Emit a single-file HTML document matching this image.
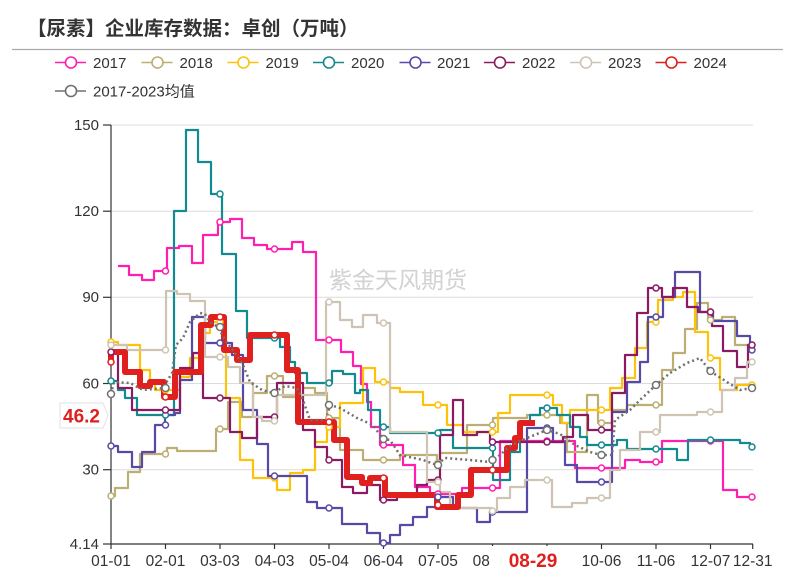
<!DOCTYPE html>
<html><head><meta charset="utf-8"><style>
html,body{margin:0;padding:0;background:#fff;}
svg{display:block;}
text{font-family:"Liberation Sans","Noto Sans CJK SC",sans-serif;}
</style></head><body>
<svg width="796" height="575" viewBox="0 0 796 575" xmlns="http://www.w3.org/2000/svg">
<rect width="796" height="575" fill="#fff"/>
<text x="27" y="35" font-size="19.5" font-weight="bold" fill="#333" font-family="'Noto Sans CJK SC',sans-serif">【尿素】企业库存数据：卓创（万吨）</text>
<line x1="12" y1="49.5" x2="783" y2="49.5" stroke="#aaa" stroke-width="1.2"/>

<!-- legend -->
<g font-size="15" fill="#333" stroke-width="1.6">
<g><line x1="55" y1="62.5" x2="86" y2="62.5" stroke="#ff1fae"/><circle cx="71" cy="62.5" r="5.5" fill="#fff" stroke="#ff1fae"/><text x="93" y="68" stroke="none">2017</text></g>
<g><line x1="141.5" y1="62.5" x2="172.5" y2="62.5" stroke="#bcae74"/><circle cx="157.5" cy="62.5" r="5.5" fill="#fff" stroke="#bcae74"/><text x="179.5" y="68" stroke="none">2018</text></g>
<g><line x1="227.5" y1="62.5" x2="258.5" y2="62.5" stroke="#fdc20a"/><circle cx="243.5" cy="62.5" r="5.5" fill="#fff" stroke="#fdc20a"/><text x="265.5" y="68" stroke="none">2019</text></g>
<g><line x1="313" y1="62.5" x2="344" y2="62.5" stroke="#128a8f"/><circle cx="329" cy="62.5" r="5.5" fill="#fff" stroke="#128a8f"/><text x="351" y="68" stroke="none">2020</text></g>
<g><line x1="399.5" y1="62.5" x2="430.5" y2="62.5" stroke="#574aa6"/><circle cx="415.5" cy="62.5" r="5.5" fill="#fff" stroke="#574aa6"/><text x="437" y="68" stroke="none">2021</text></g>
<g><line x1="484" y1="62.5" x2="515" y2="62.5" stroke="#8b1a62"/><circle cx="500" cy="62.5" r="5.5" fill="#fff" stroke="#8b1a62"/><text x="522" y="68" stroke="none">2022</text></g>
<g><line x1="570" y1="62.5" x2="601" y2="62.5" stroke="#cfc4b4"/><circle cx="586" cy="62.5" r="5.5" fill="#fff" stroke="#cfc4b4"/><text x="608" y="68" stroke="none">2023</text></g>
<g><line x1="655.5" y1="62.5" x2="686.5" y2="62.5" stroke="#e0201e"/><circle cx="671.5" cy="62.5" r="5.5" fill="#fff" stroke="#e0201e"/><text x="693.5" y="68" stroke="none">2024</text></g>
<g><line x1="55" y1="91" x2="86" y2="91" stroke="#707070"/><circle cx="71" cy="91" r="5.5" fill="#fff" stroke="#707070"/><text x="93" y="96.5" stroke="none">2017-2023<tspan font-family="'Noto Sans CJK SC',sans-serif">均值</tspan></text></g>
</g>

<!-- grid -->
<g stroke="#dcdcdc" stroke-width="1">
<line x1="111" y1="125" x2="753" y2="125"/>
<line x1="111" y1="211.2" x2="753" y2="211.2"/>
<line x1="111" y1="297.3" x2="753" y2="297.3"/>
<line x1="111" y1="383.5" x2="753" y2="383.5"/>
<line x1="111" y1="469.7" x2="753" y2="469.7"/>
</g>

<!-- watermark -->
<text x="329" y="288" font-size="23" fill="#d2d2d2" font-family="'Noto Sans CJK SC',sans-serif">紫金天风期货</text>

<!-- axes -->
<g stroke="#333" stroke-width="1.2">
<line x1="111" y1="125" x2="111" y2="544"/>
<line x1="111" y1="544" x2="753" y2="544"/>
<line x1="103" y1="125" x2="111" y2="125"/>
<line x1="103" y1="211.2" x2="111" y2="211.2"/>
<line x1="103" y1="297.3" x2="111" y2="297.3"/>
<line x1="103" y1="383.5" x2="111" y2="383.5"/>
<line x1="103" y1="469.7" x2="111" y2="469.7"/>
<line x1="103" y1="544" x2="111" y2="544"/>
<line x1="111" y1="544" x2="111" y2="549"/>
<line x1="165.5" y1="544" x2="165.5" y2="549"/>
<line x1="220" y1="544" x2="220" y2="549"/>
<line x1="274.5" y1="544" x2="274.5" y2="549"/>
<line x1="329" y1="544" x2="329" y2="549"/>
<line x1="383.5" y1="544" x2="383.5" y2="549"/>
<line x1="438" y1="544" x2="438" y2="549"/>
<line x1="492.5" y1="544" x2="492.5" y2="549"/>
<line x1="547" y1="544" x2="547" y2="549"/>
<line x1="601.5" y1="544" x2="601.5" y2="549"/>
<line x1="656" y1="544" x2="656" y2="549"/>
<line x1="710.5" y1="544" x2="710.5" y2="549"/>
<line x1="752.7" y1="544" x2="752.7" y2="549"/>
</g>
<g font-size="15" fill="#333" text-anchor="end">
<text x="99" y="130">150</text>
<text x="99" y="216">120</text>
<text x="99" y="302">90</text>
<text x="99" y="388.5">60</text>
<text x="99" y="474.5">30</text>
<text x="99" y="549">4.14</text>
</g>
<g font-size="15.5" fill="#333" text-anchor="middle">
<text x="111" y="566">01-01</text>
<text x="165.5" y="566">02-01</text>
<text x="220" y="566">03-03</text>
<text x="274.5" y="566">04-03</text>
<text x="329" y="566">05-04</text>
<text x="383.5" y="566">06-04</text>
<text x="438" y="566">07-05</text>
<text x="492.5" y="566">08-05</text>
<text x="547" y="566">09-05</text>
<text x="601.5" y="566">10-06</text>
<text x="656" y="566">11-06</text>
<text x="710.5" y="566">12-07</text>
<text x="752.7" y="566">12-31</text>
</g>

<!-- series -->
<g fill="none" stroke-width="2.2" stroke-linejoin="round">
<path stroke="#ff1fae" d="M118 266 H129 V275 H142 V280 H154 V271 H167 V248 H179 V246 H192 V263 H203 V235 H218 V222 H230 V219 H242 V238 H254 V245 H267 V249 H292 V242 H303 V252 H316 V340 H341 V352 H353 V366 H361 V384 H367 V402 H371 V427 H380 V445 H403 V465 H415 V487 H430 V494 H462 V488 H500 V441 H575 V468 H625 V460 H640 V462 H662 V441 H723 V490 H737 V497 H752"/>
<path stroke="#bcae74" d="M111 496 H115 V488 H128 V472 H140 V454 H167 V448 H177 V451 H216 V429 H228 V402 H242 V417 H253 V393 H267 V376 H283 V397 H303 V388 H315 V393 H327 V418 H340 V450 H363 V460 H400 V455 H437 V463 H440 V453 H467 V425 H493 V418 H527 V415 H560 V423 H567 V452 H587 V395 H598 V423 H612 V410 H627 V405 H662 V370 H673 V353 H685 V329 H697 V303 H708 V320 H722 V317 H735 V345 H752"/>
<path stroke="#fdc20a" d="M111 342 H118 V345 H140 V370 H150 V383 H155 V390 H180 V377 H190 V358 H203 V333 H210 V322 H226 V398 H240 V460 H253 V478 H277 V490 H290 V473 H303 V470 H315 V442 H327 V427 H340 V403 H363 V368 H375 V382 H390 V388 H400 V392 H423 V405 H447 V425 H463 V432 H498 V413 H510 V395 H553 V405 H562 V423 H570 V410 H610 V388 H622 V378 H635 V348 H647 V322 H658 V300 H673 V297 H683 V292 H695 V332 H708 V358 H720 V390 H737 V385 H752"/>
<path stroke="#128a8f" d="M111 381 H118 V390 H125 V398 H137 V415 H174 V211 H186 V130 H198 V162 H211 V194 H222 V254 H236 V311 H247 V338 H280 V347 H290 V362 H295 V373 H307 V383 H332 V371 H343 V374 H355 V393 H360 V390 H368 V410 H380 V427 H390 V433 H440 V430 H453 V448 H493 V480 H510 V452 H520 V422 H530 V415 H540 V408 H557 V415 H570 V427 H580 V437 H587 V445 H617 V440 H627 V449 H677 V460 H688 V440 H740 V443 H750 V447 H752"/>
<path stroke="#574aa6" d="M111 446 H118 V452 H132 V467 H142 V452 H155 V425 H165 V415 H175 V413 H180 V380 H192 V317 H205 V343 H232 V355 H243 V410 H257 V444 H268 V476 H307 V502 H317 V508 H342 V524 H367 V533 H380 V543 H390 V535 H400 V525 H413 V517 H427 V507 H437 V497 H453 V508 H477 V522 H490 V512 H527 V428 H553 V442 H565 V465 H577 V482 H612 V412 H627 V382 H640 V362 H648 V317 H663 V297 H675 V272 H700 V312 H713 V321 H737 V336 H750 V350 H752"/>
<path stroke="#8b1a62" d="M111 352 H118 V388 H132 V410 H180 V368 H193 V353 H203 V398 H230 V432 H242 V438 H257 V417 H277 V383 H303 V430 H315 V447 H327 V460 H342 V487 H353 V493 H367 V485 H380 V500 H397 V497 H417 V485 H427 V480 H440 V435 H453 V400 H463 V435 H477 V432 H490 V442 H563 V437 H573 V415 H588 V430 H612 V393 H625 V355 H637 V313 H648 V288 H662 V297 H673 V288 H687 V307 H698 V312 H712 V326 H723 V351 H737 V367 H748 V345 H752"/>
<path stroke="#cfc4b4" d="M111 345 H127 V350 H166 V291 H177 V294 H190 V301 H205 V357 H228 V367 H240 V383 H253 V417 H262 V421 H277 V395 H326 V302 H340 V320 H352 V327 H363 V315 H377 V323 H390 V432 H427 V482 H440 V492 H450 V508 H492 V511 H497 V498 H510 V487 H525 V480 H552 V507 H572 V503 H587 V498 H610 V470 H620 V450 H640 V432 H660 V415 H697 V412 H722 V390 H735 V378 H747 V362 H752"/>
<path stroke="#e0201e" stroke-width="6" d="M111 362 V352 H125 V372 H140 V386 H150 V382 H164 V397 H175 V372 H201 V325 H211 V317 H224 V350 H237 V360 H250 V335 H287 V370 H298 V422 H334 V440 H347 V477 H362 V483 H370 V478 H385 V495 H437 V507 H458 V495 H471 V470 H507 V448 H515 V438 H520 V423 H535"/>
<path stroke="#707070" stroke-width="2.5" stroke-dasharray="2 3" d="M111 394 L114 382 L130 383 L143 390 L163 388 L172 373 L176 345 L183 338 L190 322 L200 313 L205 314 L210 322 L218 327 L225 340 L235 353 L243 365 L250 382 L262 390 L273 393 L285 386 L297 388 L303 400 L310 420 L326 420 L330 405 L340 408 L357 418 L373 425 L383 439 L390 440 L400 455 L423 460 L437 465 L445 458 L470 460 L490 462 L500 455 L510 446 L527 438 L547 430 L560 434 L575 445 L590 452 L601 455 L612 455 L615 420 L630 410 L640 400 L656 385 L670 373 L687 363 L700 358 L710 371 L727 382 L740 390 L752 388"/>
</g>

<!-- markers -->
<g fill="#fff" stroke-width="1.5">
<g stroke="#ff1fae">
<circle cx="165.5" cy="271" r="3"/><circle cx="220" cy="222" r="3"/><circle cx="274.5" cy="249" r="3"/><circle cx="329" cy="340" r="3"/><circle cx="383.5" cy="445" r="3"/><circle cx="438" cy="494" r="3"/><circle cx="492.5" cy="488" r="3"/><circle cx="547" cy="441" r="3"/><circle cx="601.5" cy="468" r="3"/><circle cx="656" cy="462" r="3"/><circle cx="710.5" cy="441" r="3"/><circle cx="752" cy="497" r="3"/>
</g>
<g stroke="#bcae74">
<circle cx="111" cy="496" r="3"/><circle cx="165.5" cy="454" r="3"/><circle cx="220" cy="429" r="3"/><circle cx="274.5" cy="376" r="3"/><circle cx="329" cy="418" r="3"/><circle cx="383.5" cy="460" r="3"/><circle cx="438" cy="463" r="3"/><circle cx="492.5" cy="425" r="3"/><circle cx="547" cy="415" r="3"/><circle cx="601.5" cy="423" r="3"/><circle cx="656" cy="405" r="3"/><circle cx="710.5" cy="320" r="3"/><circle cx="752" cy="345" r="3"/>
</g>
<g stroke="#fdc20a">
<circle cx="111" cy="342" r="3"/><circle cx="165.5" cy="390" r="3"/><circle cx="220" cy="322" r="3"/><circle cx="274.5" cy="478" r="3"/><circle cx="329" cy="427" r="3"/><circle cx="383.5" cy="382" r="3"/><circle cx="438" cy="405" r="3"/><circle cx="492.5" cy="432" r="3"/><circle cx="547" cy="395" r="3"/><circle cx="601.5" cy="410" r="3"/><circle cx="656" cy="322" r="3"/><circle cx="710.5" cy="358" r="3"/><circle cx="752" cy="385" r="3"/>
</g>
<g stroke="#128a8f">
<circle cx="111" cy="381" r="3"/><circle cx="165.5" cy="415" r="3"/><circle cx="220" cy="194" r="3"/><circle cx="274.5" cy="338" r="3"/><circle cx="329" cy="383" r="3"/><circle cx="383.5" cy="427" r="3"/><circle cx="438" cy="433" r="3"/><circle cx="492.5" cy="448" r="3"/><circle cx="547" cy="408" r="3"/><circle cx="601.5" cy="445" r="3"/><circle cx="656" cy="449" r="3"/><circle cx="710.5" cy="440" r="3"/><circle cx="752" cy="447" r="3"/>
</g>
<g stroke="#574aa6">
<circle cx="111" cy="446" r="3"/><circle cx="165.5" cy="425" r="3"/><circle cx="220" cy="343" r="3"/><circle cx="274.5" cy="476" r="3"/><circle cx="329" cy="508" r="3"/><circle cx="383.5" cy="543" r="3"/><circle cx="438" cy="497" r="3"/><circle cx="492.5" cy="512" r="3"/><circle cx="547" cy="428" r="3"/><circle cx="601.5" cy="482" r="3"/><circle cx="656" cy="317" r="3"/><circle cx="710.5" cy="312" r="3"/><circle cx="752" cy="350" r="3"/>
</g>
<g stroke="#8b1a62">
<circle cx="111" cy="352" r="3"/><circle cx="165.5" cy="410" r="3"/><circle cx="220" cy="398" r="3"/><circle cx="274.5" cy="417" r="3"/><circle cx="329" cy="460" r="3"/><circle cx="383.5" cy="500" r="3"/><circle cx="438" cy="480" r="3"/><circle cx="492.5" cy="442" r="3"/><circle cx="547" cy="442" r="3"/><circle cx="601.5" cy="430" r="3"/><circle cx="656" cy="288" r="3"/><circle cx="710.5" cy="312" r="3"/><circle cx="752" cy="345" r="3"/>
</g>
<g stroke="#cfc4b4">
<circle cx="111" cy="345" r="3"/><circle cx="165.5" cy="350" r="3"/><circle cx="220" cy="357" r="3"/><circle cx="274.5" cy="421" r="3"/><circle cx="329" cy="302" r="3"/><circle cx="383.5" cy="323" r="3"/><circle cx="438" cy="482" r="3"/><circle cx="492.5" cy="511" r="3"/><circle cx="547" cy="480" r="3"/><circle cx="601.5" cy="498" r="3"/><circle cx="656" cy="432" r="3"/><circle cx="710.5" cy="412" r="3"/><circle cx="752" cy="362" r="3"/>
</g>
<g stroke="#e0201e">
<circle cx="111" cy="362" r="3"/><circle cx="165.5" cy="397" r="3"/><circle cx="220" cy="317" r="3"/><circle cx="274.5" cy="335" r="3"/><circle cx="329" cy="422" r="3"/><circle cx="383.5" cy="478" r="3"/><circle cx="438" cy="505" r="3"/><circle cx="492.5" cy="470" r="3"/>
</g>
<g stroke="#707070">
<circle cx="111" cy="394" r="3.5"/><circle cx="165.5" cy="388" r="3.5"/><circle cx="220" cy="327" r="3.5"/><circle cx="274.5" cy="393" r="3.5"/><circle cx="329" cy="405" r="3.5"/><circle cx="383.5" cy="439" r="3.5"/><circle cx="438" cy="465" r="3.5"/><circle cx="492.5" cy="460" r="3.5"/><circle cx="547" cy="430" r="3.5"/><circle cx="601.5" cy="455" r="3.5"/><circle cx="656" cy="385" r="3.5"/><circle cx="710.5" cy="371" r="3.5"/><circle cx="752" cy="388" r="3.5"/>
</g>
</g>

<!-- axis pointer labels -->
<path d="M60 403 H103 L108 415.5 L103 428 H60 Z" fill="#fff" stroke="#e2e2e2" stroke-width="1"/>
<text x="63" y="422.5" font-size="19" font-weight="bold" fill="#e0201e">46.2</text>
<rect x="490.5" y="546" width="87" height="29" fill="#fff"/>
<text x="533" y="567" font-size="19" font-weight="bold" fill="#e0201e" text-anchor="middle">08-29</text>
</svg>
</body></html>
